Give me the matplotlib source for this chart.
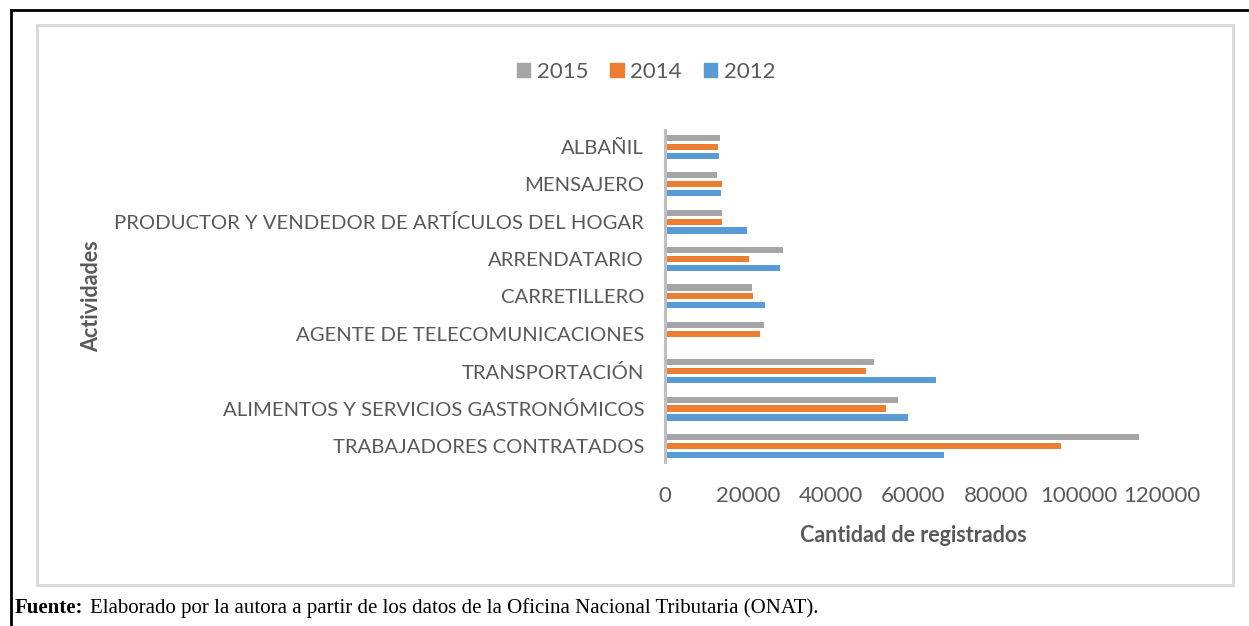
import numpy as np
import matplotlib
matplotlib.use("Agg")
import matplotlib.pyplot as plt
from matplotlib.lines import Line2D
from matplotlib.patches import Rectangle, Patch

# Data (bottom to top)
actividades = [
    "TRABAJADORES CONTRATADOS",
    "ALIMENTOS Y SERVICIOS GASTRONÓMICOS",
    "TRANSPORTACIÓN",
    "AGENTE DE TELECOMUNICACIONES",
    "CARRETILLERO",
    "ARRENDATARIO",
    "PRODUCTOR Y VENDEDOR DE ARTÍCULOS DEL HOGAR",
    "MENSAJERO",
    "ALBAÑIL",
]
v2015 = [114500, 56200, 50400, 23800, 21000, 28400, 13850, 12600, 13300]
v2014 = [95600, 53400, 48500, 22900, 21300, 20400, 13850, 13850, 12900]
v2012 = [67300, 58700, 65500, 0, 24100, 27800, 19700, 13600, 13000]
xticks = [0, 20000, 40000, 60000, 80000, 100000, 120000]

c2015 = "#A5A5A5"
c2014 = "#ED7D31"
c2012 = "#5B9BD5"
txt = "#595959"
font = "Lato"

W, H = 1249, 626
fig = plt.figure(figsize=(W / 100, H / 100), dpi=100)
fig.patch.set_facecolor("white")

# axes placed in pixel terms
left, right, top, bottom = 665, 1162, 130, 462
ax = fig.add_axes([left / W, 1 - bottom / H, (right - left) / W, (bottom - top) / H])

y = np.arange(len(actividades))
off = 0.238
h = 0.165
ax.barh(y + off, v2015, height=h, color=c2015, label="2015")
ax.barh(y, v2014, height=h, color=c2014, label="2014")
ax.barh(y - off, v2012, height=h, color=c2012, label="2012")

ax.set_xlim(0, 120000)
ax.set_ylim(-0.43, 8.45)
ax.set_xticks(xticks)
ax.set_xticklabels([str(t) for t in xticks], fontsize=16, color=txt, family=font)
ax.set_yticks(y)
ax.set_yticklabels(actividades, fontsize=14.6, color=txt, family=font)
ax.tick_params(axis="both", length=0)
ax.tick_params(axis="x", pad=17)
ax.tick_params(axis="y", pad=15)

for s in ["top", "right", "bottom"]:
    ax.spines[s].set_visible(False)
ax.spines["left"].set_color("#BFBFBF")
ax.spines["left"].set_linewidth(2.2)

ax.set_xlabel("Cantidad de registrados", fontsize=15.5, color=txt, family=font, fontweight="bold")
ax.xaxis.set_label_coords(0.5, (bottom - 525) / (bottom - top))
ax.set_ylabel("Actividades", fontsize=15.5, color=txt, family=font, fontweight="bold")
ax.yaxis.set_label_coords((92 - left) / (right - left), 0.5)
ax.yaxis.label.set_va("center")

handles = [Patch(color=c2015), Patch(color=c2014), Patch(color=c2012)]
fig.legend(handles, ["2015", "2014", "2012"], loc="center", ncol=3,
           bbox_to_anchor=(646 / W, 1 - 72 / H), frameon=False,
           prop={"family": font, "size": 16}, labelcolor=txt,
           handlelength=0.6, handleheight=0.6, handletextpad=0.3, columnspacing=1.0)

# frames
fig.add_artist(Rectangle((37 / W, 1 - 585 / H), (1233 - 37) / W, (585 - 25) / H,
                         transform=fig.transFigure, fill=False, edgecolor="#D9D9D9", lw=2))
fig.add_artist(Line2D([11 / W, 1], [1 - 10 / H] * 2, transform=fig.transFigure, color="black", lw=2))
fig.add_artist(Line2D([11 / W] * 2, [0, 1 - 10 / H], transform=fig.transFigure, color="black", lw=2))

# source note
fig.text(15 / W, 1 - 608 / H, "Fuente:", fontsize=15, family="Liberation Serif",
         fontweight="bold", va="center", ha="left")
fig.text(90 / W, 1 - 608 / H, "Elaborado por la autora a partir de los datos de la Oficina Nacional Tributaria (ONAT).",
         fontsize=15, family="Liberation Serif", va="center", ha="left")

fig.savefig("out.png", dpi=100)
